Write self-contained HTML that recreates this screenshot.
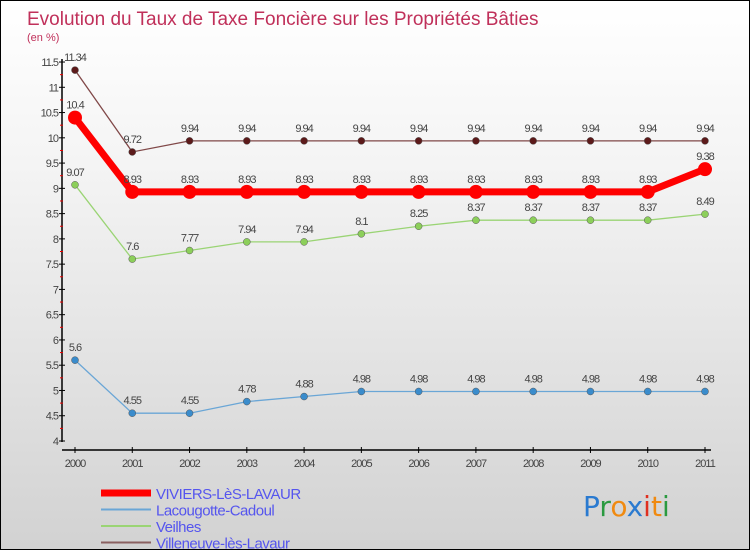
<!DOCTYPE html>
<html><head><meta charset="utf-8"><style>
body{margin:0}
#c{width:748px;height:548px;border:1px solid #000;background:linear-gradient(#fff,#f4f4f4 30%,#d2d2d2);position:relative;overflow:hidden;font-family:"Liberation Sans",sans-serif}
</style></head><body>
<div id="c">
<svg id="s" width="748" height="548"></svg>
</div>
<script>
const years=["2000","2001","2002","2003","2004","2005","2006","2007","2008","2009","2010","2011"];
const viviers=[10.4,8.93,8.93,8.93,8.93,8.93,8.93,8.93,8.93,8.93,8.93,9.38];
const lacougotte=[5.6,4.55,4.55,4.78,4.88,4.98,4.98,4.98,4.98,4.98,4.98,4.98];
const veilhes=[9.07,7.6,7.77,7.94,7.94,8.1,8.25,8.37,8.37,8.37,8.37,8.49];
const villeneuve=[11.34,9.72,9.94,9.94,9.94,9.94,9.94,9.94,9.94,9.94,9.94,9.94];
const yTicks=["4","4.5","5","5.5","6","6.5","7","7.5","8","8.5","9","9.5","10","10.5","11","11.5"];
const NS="http://www.w3.org/2000/svg",s=document.getElementById('s');
const X=i=>74+i*(630/11), Y=v=>440-(v-4)*50.53;
function el(t,a,txt){const e=document.createElementNS(NS,t);for(const k in a)e.setAttribute(k,a[k]);if(txt!==undefined)e.textContent=txt;s.appendChild(e);return e;}
let e=el('text',{x:26,y:24,fill:'#c0305a','font-size':19},'Evolution du Taux de Taxe Foncière sur les Propriétés Bâties');

e=el('text',{x:26,y:40,fill:'#c0305a','font-size':11},'(en %)');

e=el('line',{x1:61,y1:58,x2:61,y2:441,stroke:'#000','stroke-width':1.5});

e=el('line',{x1:61,y1:449,x2:710,y2:449,stroke:'#000','stroke-width':1.5});

yTicks.forEach(t=>{const v=parseFloat(t),y=Y(v);
 let l=el('line',{x1:58,y1:y,x2:64,y2:y,stroke:'#000'});
 let tx=el('text',{x:57,y:y+4,'text-anchor':'end','font-size':11,fill:'#444','letter-spacing':-1},t);
 if(v<11.5){let m=el('line',{x1:59,y1:Y(v+0.25),x2:62,y2:Y(v+0.25),stroke:'#e00'});}
});
years.forEach((t,i)=>{const x=X(i);
 let l=el('line',{x1:x,y1:446,x2:x,y2:452,stroke:'#000'});
 let tx=el('text',{x:x,y:466,'text-anchor':'middle','font-size':11,fill:'#444','letter-spacing':-1},t);
});
function series(d,col,dot,w,r,name){
 let p=el('polyline',{points:d.map((v,i)=>X(i)+','+Y(v)).join(' '),fill:'none',stroke:col,'stroke-width':w});
 
 d.forEach((v,i)=>{let c=el('circle',{cx:X(i),cy:Y(v),r:r,fill:dot,stroke:w>3?'none':'#555','stroke-width':0.5});
  
  let t=el('text',{x:X(i),y:Y(v)-9,'text-anchor':'middle','font-size':11,fill:'#444','letter-spacing':-1},String(v));
  });
}
series(lacougotte,'#6aa6d6','#3a8ccc',1.3,3.5,'lacougotte');
series(veilhes,'#9ad474','#8ccf5a',1.3,3.5,'veilhes');
series(villeneuve,'#804848','#5c1a1a',1.3,3.5,'villeneuve');
series(viviers,'#f00','#f00',7,7,'viviers');
const leg=[['VIVIERS-LèS-LAVAUR','#f00',7],['Lacougotte-Cadoul','#6aa6d6',2],['Veilhes','#9ad474',2],['Villeneuve-lès-Lavaur','#8a6060',2]];
leg.forEach((L,i)=>{const y=492+i*16.5;
 let l=el('line',{x1:100,y1:y,x2:150,y2:y,stroke:L[1],'stroke-width':L[2]});
 let t=el('text',{x:155,y:y+6,'font-size':15,fill:'#5555ee','letter-spacing':-0.5},L[0]);
});
e=el('text',{x:582,y:515,'font-size':28,fill:'#2a7ad0','font-family':'DejaVu Sans'},'');

[['P','#2a7ad0'],['r','#2a9a40'],['o','#f08a10'],['x','#2a7ad0'],['i','#e03020'],['t','#f08a10'],['i','#2a9a40']].forEach(c=>{const ts=document.createElementNS(NS,'tspan');ts.setAttribute('fill',c[1]);ts.textContent=c[0];e.appendChild(ts);});
</script>
</body></html>
